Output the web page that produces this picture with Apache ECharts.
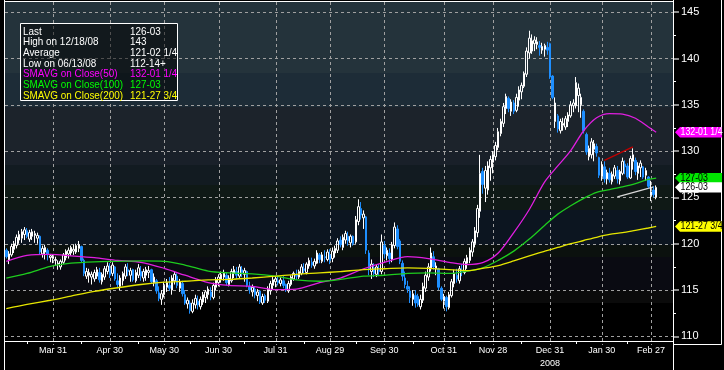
<!DOCTYPE html>
<html><head><meta charset="utf-8">
<script src="https://cdn.jsdelivr.net/npm/echarts@6/dist/echarts.min.js"></script>
<style>
html,body{margin:0;padding:0;background:#000;}
#c{width:724px;height:370px;
 background:#000 linear-gradient(to bottom,
  #24333b 0px,#24333b 71px,#1d2c37 71px,#1d2c37 105px,#1c232b 105px,#1c232b 148px,
  #192029 148px,#192029 163px,#121b21 163px,#121b21 183px,#0f1916 183px,#0f1916 208px,
  #0c1520 208px,#0c1520 243px,#0b110e 243px,#0b110e 255px,#0a0b12 255px,#0a0b12 288px,
  #0b0b0b 288px,#0b0b0b 301px,#000 301px,#000 343px) no-repeat 5px 2px / 668px 343px;}
</style>
</head><body><div id="c"></div>
<script>
// ---------- DATA ----------
const startDate = '2008-03-04';
const holidays = ['2008-03-21','2008-05-26','2008-07-04','2008-09-01','2008-11-27','2008-12-25','2009-01-01','2009-01-19','2009-02-16'];
const totalSlots = 258;

const opens = [119.3,118.2,118.8,119.4,119.8,120.4,120.6,121.0,121.4,120.5,120.8,120.9,120.6,120.8,118.9,119.1,119.3,118.5,
118.4,118.2,117.8,117.5,118.0,118.5,118.9,119.0,119.2,119.1,119.5,119.7,118.2,116.5,116.6,116.4,116.2,116.5,116.9,115.9,116.4,117.0,117.3,
116.8,117.5,116.0,115.4,116.0,116.5,117.2,116.6,117.2,116.0,116.6,117.0,116.3,116.6,116.9,117.2,115.8,116.0,114.7,114.0,114.5,
115.3,115.5,115.0,116.0,116.5,115.2,115.7,114.5,113.5,113.6,112.7,113.4,113.8,113.2,113.7,114.2,114.5,114.8,114.2,115.3,115.8,
116.2,116.4,116.6,115.6,116.0,116.8,117.0,116.5,117.2,116.7,117.0,115.4,114.8,115.1,114.4,114.9,113.6,114.4,113.8,114.9,115.5,115.9,
116.0,115.7,116.0,115.6,114.9,115.6,116.2,116.6,116.4,116.8,117.3,116.9,117.6,118.0,117.6,117.9,118.8,118.1,118.6,118.3,118.8,
118.4,119.0,119.3,120.4,119.6,120.4,120.8,120.1,120.8,120.2,122.4,123.8,122.8,122.9,119.0,117.0,117.4,116.7,117.2,117.0,119.8,
118.7,119.0,118.3,119.8,121.6,120.3,117.9,116.3,115.4,114.9,114.0,114.4,114.3,113.2,113.9,115.2,116.4,117.3,118.6,117.3,117.3,115.2,113.8,
114.2,113.1,114.4,115.7,116.6,116.0,117.1,116.9,117.9,118.2,119.1,120.0,121.2,123.5,127.8,126.0,125.8,128.2,128.8,
129.4,130.4,131.9,133.0,134.6,135.7,134.3,135.2,134.4,135.5,136.4,137.0,138.3,140.6,140.8,141.6,141.5,141.4,140.9,141.0,141.2,141.6,
138.1,133.2,133.8,132.2,132.8,132.6,133.2,133.8,134.9,134.9,136.0,135.0,134.3,131.8,129.4,129.6,130.2,130.5,129.3,127.3,
128.3,127.0,127.6,126.7,127.3,127.9,126.8,127.6,128.6,128.4,127.1,128.9,129.0,127.6,128.2,128.3,127.4,127.2,125.2,
125.8,125.0];
const highs = [119.5,119.2,120.0,120.3,121.0,121.4,121.6,121.8,121.7,121.5,121.6,121.4,121.2,120.9,119.8,119.9,119.5,118.9,
118.8,118.6,118.2,118.3,119.0,119.4,119.6,119.8,119.9,120.0,120.3,119.8,118.4,117.4,117.3,117.0,117.2,117.5,117.4,116.9,117.6,118.0,117.9,
118.0,117.6,116.8,116.6,117.0,117.8,117.9,117.4,117.3,117.2,117.8,117.6,117.3,117.5,117.6,117.3,116.8,116.2,115.4,115.0,115.9,
116.2,116.4,116.6,117.0,116.8,116.2,116.0,115.0,114.2,113.9,114.0,114.5,114.4,114.3,114.8,115.0,115.4,115.3,115.8,116.4,116.7,
117.0,117.2,116.9,116.6,117.3,117.6,117.5,117.8,117.6,117.4,117.1,115.9,115.6,115.4,115.1,115.0,114.6,114.6,115.4,116.0,116.4,116.5,
116.5,116.4,116.5,115.7,116.0,116.6,117.0,117.2,117.2,117.8,117.9,118.0,118.5,118.5,118.4,119.3,119.0,119.1,119.3,119.4,119.4,
119.6,119.8,120.6,120.8,121.0,121.4,121.3,121.0,120.9,123.0,124.8,124.5,123.6,123.0,119.3,118.3,117.9,117.8,117.8,121.0,120.3,
119.6,119.5,120.2,122.3,122.0,120.5,118.2,117.0,116.0,115.4,115.0,115.0,114.6,114.5,115.8,117.0,117.9,119.6,119.2,118.0,117.4,115.4,114.6,
114.4,114.8,116.2,117.2,117.3,117.6,117.8,118.4,118.8,119.6,120.5,121.8,124.2,129.6,128.2,128.4,128.9,129.5,130.0,
131.0,132.5,133.5,135.2,136.2,135.9,135.6,135.5,136.2,137.0,137.4,138.6,141.2,143.0,142.6,142.4,142.3,141.9,141.7,141.6,141.8,141.7,
138.2,135.8,134.0,133.5,133.6,133.8,134.2,135.4,135.6,138.0,137.3,136.2,134.5,132.0,130.6,131.4,131.2,130.8,129.4,128.9,
128.9,128.0,128.2,127.8,128.5,128.4,128.0,129.3,129.0,128.7,129.5,130.3,129.3,128.8,129.0,128.4,128.2,127.3,126.8,
126.2,126.3];
const lows = [118.4,117.8,118.6,119.0,119.5,120.0,120.1,120.4,120.6,120.2,120.4,120.1,120.0,118.8,118.5,118.3,118.2,118.0,
117.9,117.6,117.2,117.2,117.8,118.2,118.4,118.7,118.8,118.9,119.1,118.0,116.5,116.2,115.8,115.6,115.9,116.2,115.8,115.6,116.1,116.7,116.3,
116.5,116.0,115.2,115.0,115.5,116.2,116.5,115.9,115.9,115.8,116.3,116.0,115.9,116.0,116.3,115.7,115.4,114.6,113.8,113.4,114.2,
114.8,114.9,114.5,115.6,115.2,114.8,114.3,113.4,113.0,112.45,112.5,113.0,112.9,112.9,113.4,113.6,114.0,113.9,114.0,115.0,115.4,
115.8,116.0,115.5,115.4,115.8,116.3,116.2,116.3,116.4,115.9,115.3,114.6,114.3,114.1,113.8,113.5,113.4,113.6,113.6,114.5,115.0,115.3,
115.5,115.4,115.2,114.8,114.7,115.4,116.0,116.1,116.2,116.6,116.8,116.7,117.3,117.4,117.3,117.8,117.9,117.9,118.0,118.1,117.8,
118.0,118.5,119.0,119.6,119.3,120.0,119.8,119.6,119.8,120.0,122.0,122.6,121.6,118.9,116.6,116.2,116.4,116.4,116.5,116.7,118.4,
118.2,117.8,118.0,119.5,119.4,117.8,116.0,115.2,114.7,113.6,113.3,113.1,113.2,112.9,113.6,114.8,116.0,117.0,117.2,116.6,115.0,113.8,113.0,
112.7,112.9,114.2,115.3,115.8,115.7,116.5,116.7,117.3,117.9,118.6,119.6,120.7,122.8,125.4,124.5,125.3,126.8,127.6,
129.0,130.1,131.6,132.6,134.0,134.2,133.8,134.0,134.2,134.8,135.6,136.8,138.0,140.0,140.5,140.8,141.0,140.3,140.5,140.2,140.4,137.8,
135.6,132.5,132.0,131.9,132.2,132.3,132.6,133.6,134.2,134.6,134.2,133.6,131.9,129.6,129.0,129.2,128.9,129.4,127.1,126.8,
126.6,126.4,126.6,126.4,127.0,126.5,126.4,127.4,127.5,127.0,127.0,128.0,127.4,126.9,127.2,127.0,126.8,126.0,124.6,
125.0,124.8];
const closes = [118.6,118.9,119.7,120.0,120.7,121.0,121.3,121.5,120.8,121.2,121.3,121.1,120.9,119.1,119.5,119.6,118.9,118.7,
118.6,118.3,117.9,118.1,118.8,119.2,119.3,119.6,119.4,119.8,119.9,118.2,116.8,117.0,116.9,116.7,116.9,117.2,116.1,116.7,117.3,117.6,116.6,
117.7,116.2,115.6,116.3,116.8,117.5,117.0,117.1,116.1,116.9,117.4,116.5,117.0,117.2,117.1,115.9,116.4,114.9,114.1,114.6,115.5,
115.8,115.2,116.3,116.7,115.5,115.9,114.6,113.6,113.9,112.8,113.6,114.1,113.4,114.0,114.5,114.8,115.1,114.3,115.5,116.1,116.4,
116.7,116.9,115.8,116.3,117.0,117.2,116.6,117.5,116.9,117.1,115.5,115.0,115.3,114.5,114.8,113.7,114.3,113.9,115.1,115.7,116.1,116.2,
115.8,116.1,115.5,115.0,115.7,116.4,116.8,116.5,117.0,117.5,117.1,117.8,118.2,117.7,118.1,119.0,118.3,118.8,118.5,119.1,118.2,
119.2,119.5,120.3,119.9,120.7,121.1,120.3,120.8,120.0,122.6,124.0,123.1,123.2,119.3,117.2,117.8,116.8,117.5,117.0,120.2,118.9,
119.3,118.4,119.9,121.8,119.7,118.1,116.5,115.6,115.1,114.2,114.6,113.6,113.4,114.0,115.4,116.6,117.5,119.0,117.5,117.6,115.3,114.0,114.3,
113.2,114.5,115.9,116.8,116.2,117.3,117.0,118.1,118.5,119.3,120.2,121.4,123.8,127.6,126.4,127.9,128.4,129.1,129.6,
130.6,132.1,133.2,134.8,135.9,134.6,135.3,134.3,135.8,136.6,137.1,138.4,140.8,142.2,141.9,142.0,141.8,141.2,141.3,141.4,140.9,138.0,
135.8,135.2,132.4,133.2,133.0,133.5,133.9,135.0,135.2,137.4,136.8,135.8,132.2,129.9,130.3,131.0,130.8,129.8,127.4,128.5,
127.0,127.7,126.9,127.5,128.2,127.0,127.8,128.9,128.3,127.2,129.2,129.6,127.8,128.4,128.7,127.2,127.9,126.2,125.6,
125.3,126.09];

// moving averages read at sample trading-day indices
const maIdx  = [0,8,17,25,34,43,52,61,69,78,86,95,104,112,121,129,138,146,155,163,171,178,184,190,196,202,208,213,218,223,228,233,238,243,248,251];
const sma50  = [118.1,118.75,118.85,118.7,118.5,118.2,118.0,117.35,116.6,115.8,115.5,115.4,115.05,115.1,115.8,116.3,117.3,118.0,118.6,118.4,118.0,117.75,117.95,119.0,121.2,123.7,126.7,128.4,130.05,132.2,133.6,134.05,134.0,133.55,132.6,132.04];
const sma100 = [116.3,116.8,117.55,117.9,118.05,118.1,118.15,118.1,117.7,117.05,116.85,116.75,116.5,116.1,115.95,116.15,116.5,116.6,116.8,116.85,116.8,117.05,117.4,118.2,119.2,120.5,122.0,123.2,124.1,124.9,125.55,125.85,126.15,126.5,126.95,127.09];
const sma200 = [113.0,113.45,113.9,114.35,114.85,115.25,115.6,115.85,115.95,116.1,116.15,116.3,116.5,116.7,116.85,117.0,117.2,117.3,117.4,117.35,117.2,117.1,117.35,117.65,118.15,118.7,119.2,119.6,120.0,120.35,120.7,121.0,121.2,121.45,121.7,121.87];

const monthEndLabels = {'2008-03-31':'Mar 31','2008-04-30':'Apr 30','2008-05-30':'May 30','2008-06-30':'Jun 30','2008-07-31':'Jul 31','2008-08-29':'Aug 29','2008-09-30':'Sep 30','2008-10-31':'Oct 31','2008-11-28':'Nov 28','2008-12-31':'Dec 31','2009-01-30':'Jan 30','2009-02-27':'Feb 27'};
const yearLabels = {'2008-12-31':'2008'};
const midMonthTicks = ['2008-03-14','2008-04-15','2008-05-15','2008-06-13','2008-07-15','2008-08-15','2008-09-15','2008-10-15','2008-11-14','2008-12-15','2009-01-15','2009-02-13'];
const yTicks = [110,115,120,125,130,135,140,145];
const yMinorTicks = [112.5,117.5,122.5,127.5,132.5,137.5,142.5];
const redTrend = [[231,129.0],[242,130.45]];
const whiteTrend = [[236,125.05],[250,126.15]];
const infoRows = [
  ['Last','126-03','#ffffff'],
  ['High on 12/18/08','143','#ffffff'],
  ['Average','121-02 1/4','#ffffff'],
  ['Low on 06/13/08','112-14+','#ffffff'],
  ['SMAVG on Close(50)','132-01 1/4','#ff00ff'],
  ['SMAVG on Close(100)','127-03','#00ff00'],
  ['SMAVG on Close(200)','121-27 3/4','#ffff00']
];
const tags = [
  [132.04,'132-01 1/4','#ff00ff','#ffffff'],
  [127.09,'127-03','#00e600','#000000'],
  [126.09,'126-03','#ffffff','#000000'],
  [121.87,'121-27 3/4','#ffff00','#000000']
];

// ---------- BUILD ----------
const FONT = "'Liberation Sans',Arial,sans-serif";
function fmt(d){return d.toISOString().slice(0,10);}
const dates = [];
{ let d = new Date(startDate+'T00:00:00Z');
  while (dates.length < totalSlots) {
    const wd = d.getUTCDay(), s = fmt(d);
    if (wd !== 0 && wd !== 6 && holidays.indexOf(s) < 0) dates.push(s);
    d.setUTCDate(d.getUTCDate()+1);
  } }
const candles = closes.map((c,i)=>[opens[i], c, lows[i], highs[i]]);
const maSeries = (vals)=>maIdx.map((ix,k)=>[dates[ix], vals[k]]);

const chart = echarts.init(document.getElementById('c'), null, {renderer:'canvas'});
const option = {
  animation:false,
  backgroundColor:'transparent',
  grid:{left:5, right:51, top:2, bottom:25, show:false},
  xAxis:{type:'category', data:dates, boundaryGap:true,
    axisLine:{show:true, lineStyle:{color:'#ffffff', width:1}},
    axisTick:{show:true, alignWithLabel:true, length:3, interval:(i,v)=>midMonthTicks.indexOf(v)>=0, lineStyle:{color:'#ffffff'}},
    axisLabel:{interval:(i,v)=>monthEndLabels[v]!==undefined, color:'#ffffff', fontSize:9, fontFamily:FONT, margin:3, lineHeight:13,
      formatter:(v)=>(monthEndLabels[v]||'') + (yearLabels[v] ? '\n'+yearLabels[v] : '')},
    splitLine:{show:false}},
  yAxis:[
    {type:'value', position:'right', min:109.5, max:146.1, scale:true,
     axisLine:{show:false},
     axisTick:{show:true, customValues:yTicks, length:6, lineStyle:{color:'#8c8c8c', width:2}},
     axisLabel:{customValues:yTicks, color:'#ffffff', fontSize:11, fontFamily:FONT, margin:8},
     splitLine:{show:false}},
    {type:'value', position:'right', min:109.5, max:146.1, scale:true,
     axisLine:{show:false},
     axisTick:{show:true, customValues:yMinorTicks, length:3, lineStyle:{color:'#ffffff', width:1}},
     axisLabel:{show:false},
     splitLine:{show:false}}
  ],
  series:[
    {type:'candlestick', name:'Price', data:candles, barWidth:2, z:5,
     itemStyle:{color:'rgba(0,0,0,0)', color0:'#1e8fff', borderColor:'#ffffff', borderColor0:'#1e8fff', borderWidth:1},
     markLine:{silent:true, symbol:'none', label:{show:false}, animation:false,
       data:[
         [{coord:[dates[redTrend[0][0]], redTrend[0][1]], lineStyle:{color:'#c00000', width:1.3, type:'solid'}},
          {coord:[dates[redTrend[1][0]], redTrend[1][1]]}],
         [{coord:[dates[whiteTrend[0][0]], whiteTrend[0][1]], lineStyle:{color:'#d8d8d8', width:1.3, type:'solid'}},
          {coord:[dates[whiteTrend[1][0]], whiteTrend[1][1]]}]
       ]}},
    {type:'line', name:'SMAVG 50', data:maSeries(sma50), showSymbol:false, smooth:0.3, z:6,
     lineStyle:{color:'#e01ee0', width:1.3}},
    {type:'line', name:'SMAVG 100', data:maSeries(sma100), showSymbol:false, smooth:0.3, z:6,
     lineStyle:{color:'#1ecc1e', width:1.3}},
    {type:'line', name:'SMAVG 200', data:maSeries(sma200), showSymbol:false, smooth:0.3, z:6,
     lineStyle:{color:'#e6e600', width:1.3}}
  ]
};
chart.setOption(option);

// ---------- GRAPHICS (gridlines, frame, info box, value tags) ----------
const g = [];
const W = '#ffffff';
function line(x1,y1,x2,y2){ g.push({type:'line', z:100, silent:true, shape:{x1,y1,x2,y2}, style:{stroke:W, lineWidth:1}}); }
// dashed gridlines: positions from the chart's own scales, dashes as short solid segments
const GRID_COL = '#a0a0a0';
function dash(x1,y1,x2,y2){ g.push({type:'line', z:1, silent:true, shape:{x1,y1,x2,y2}, style:{stroke:GRID_COL, lineWidth:1}}); }
Object.keys(monthEndLabels).forEach(k=>{
  const x = Math.round(chart.convertToPixel({xAxisIndex:0}, k)) + 0.5;
  for (let y = 2; y < 345; y += 6) dash(x, y, x, Math.min(y+3,345));
});
yTicks.forEach(v=>{
  const y = Math.round(chart.convertToPixel({yAxisIndex:0}, v)) + 0.5;
  for (let x = 5; x < 673; x += 6) dash(x, y, Math.min(x+3,673), y);
});
line(4.5,0,4.5,370); line(4.5,1.5,673.5,1.5); line(673.5,0,673.5,370);
line(721.5,0,721.5,344.5); line(673.5,344.5,721.5,344.5);
// info box
g.push({type:'rect', z:100, silent:true, shape:{x:20.5,y:23.5,width:157,height:77}, style:{fill:'rgba(0,0,0,0.5)', stroke:W, lineWidth:1}});
infoRows.forEach((r,i)=>{
  const y = 31.7 + i*10.65;
  g.push({type:'text', z:101, silent:true, x:23, y:y, scaleX:0.9, style:{text:r[0], fill:r[2], font:'11px '+FONT, textVerticalAlign:'middle'}});
  g.push({type:'text', z:101, silent:true, x:130, y:y, scaleX:0.9, style:{text:r[1], fill:r[2], font:'11px '+FONT, textVerticalAlign:'middle'}});
});
// tags
tags.forEach(t=>{
  const y = chart.convertToPixel({yAxisIndex:0}, t[0]);
  const h = 5.2;
  g.push({type:'polygon', z:102, silent:true, shape:{points:[[675,y],[680,y-h],[722,y-h],[722,y+h],[680,y+h]]}, style:{fill:t[2]}});
  g.push({type:'text', z:103, silent:true, x:680.5, y:y, scaleX:0.8, style:{text:t[1], fill:t[3], font:'11px '+FONT, textVerticalAlign:'middle'}});
});
chart.setOption({graphic:g});
</script></body></html>
